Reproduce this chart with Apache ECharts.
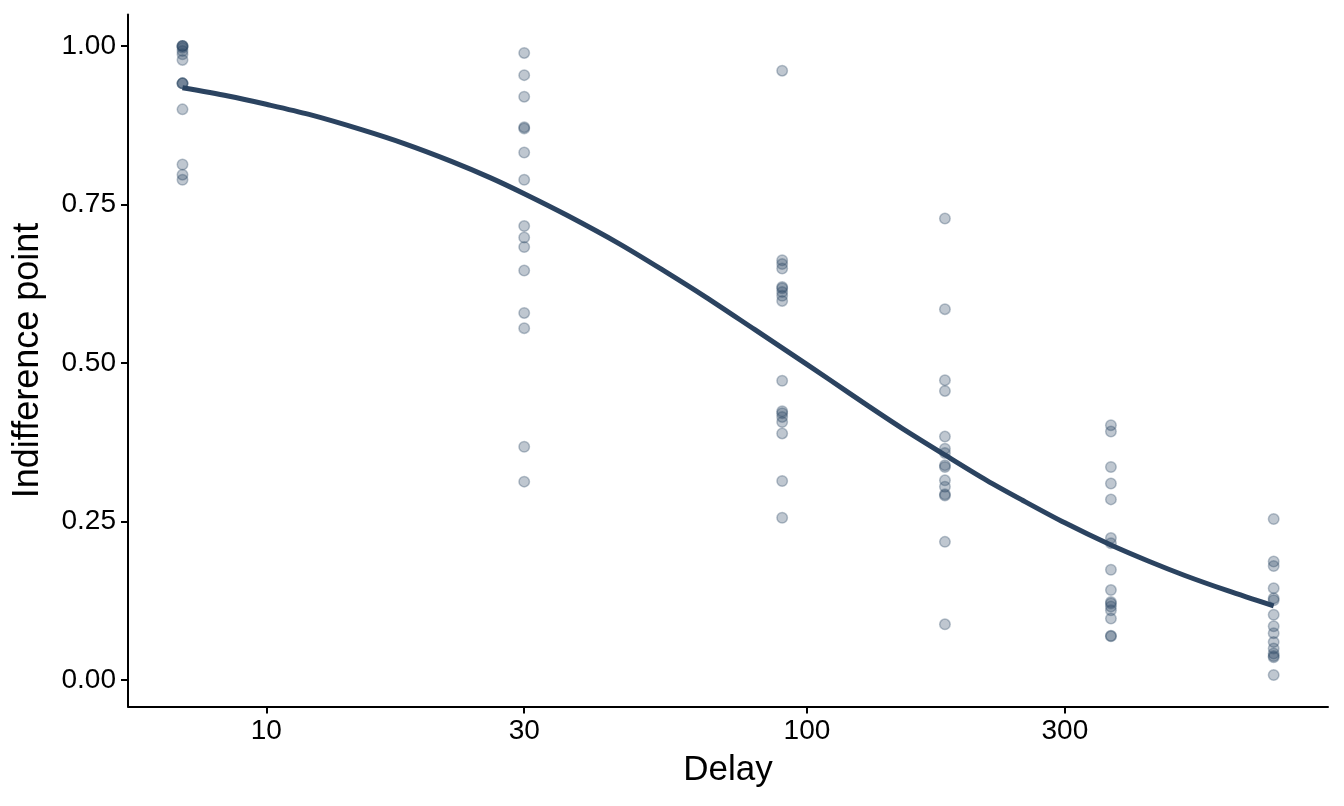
<!DOCTYPE html>
<html>
<head>
<meta charset="utf-8">
<script src="https://cdn.jsdelivr.net/npm/echarts@6/dist/echarts.min.js"></script>
<style>
html,body{margin:0;padding:0;background:#fff;}
#chart{width:1344px;height:806px;}
</style>
</head>
<body>
<div id="chart"></div>
<script>
// Delays (x, log scale)
const delays = [7, 30, 90, 180, 365, 730];
// Indifference points per delay
const points7   = [1.000, 1.000, 1.000, 0.997, 0.992, 0.987, 0.978, 0.941, 0.941, 0.941, 0.900, 0.813, 0.797, 0.789];
const points30  = [0.989, 0.954, 0.920, 0.872, 0.870, 0.832, 0.789, 0.716, 0.698, 0.683, 0.646, 0.579, 0.555, 0.368, 0.313];
const points90  = [0.961, 0.662, 0.656, 0.649, 0.620, 0.618, 0.612, 0.606, 0.598, 0.472, 0.424, 0.421, 0.415, 0.407, 0.389, 0.314, 0.256];
const points180 = [0.728, 0.585, 0.473, 0.456, 0.384, 0.365, 0.358, 0.339, 0.336, 0.315, 0.305, 0.293, 0.291, 0.218, 0.088];
const points365 = [0.402, 0.392, 0.336, 0.310, 0.285, 0.224, 0.216, 0.174, 0.142, 0.123, 0.121, 0.116, 0.110, 0.097, 0.070, 0.069];
const points730 = [0.254, 0.187, 0.180, 0.145, 0.129, 0.126, 0.103, 0.085, 0.074, 0.060, 0.050, 0.042, 0.038, 0.036, 0.008];
// Fitted curve
const curveDelays = [7, 8.5, 10, 12, 15, 18, 22, 26, 30, 36, 45, 55, 65, 80, 90, 110, 130, 150, 180, 215, 250, 300, 365, 430, 500, 600, 730];
const curveValues = [0.934, 0.921, 0.908, 0.892, 0.868, 0.846, 0.818, 0.792, 0.767, 0.733, 0.688, 0.643, 0.604, 0.553, 0.524, 0.474, 0.432, 0.397, 0.355, 0.315, 0.284, 0.248, 0.213, 0.187, 0.165, 0.141, 0.117];
// Tick labels
const xTicks = [10, 30, 100, 300];
const yTicks = [0, 0.25, 0.5, 0.75, 1];

const groups = [points7, points30, points90, points180, points365, points730];
const scatterData = [];
groups.forEach((g, i) => g.forEach(v => scatterData.push([delays[i], v])));
const curveData = curveDelays.map((d, i) => [d, curveValues[i]]);

const FONT = '"Liberation Sans", Arial, Helvetica, sans-serif';
const chart = echarts.init(document.getElementById('chart'), null, {renderer: 'canvas'});
chart.setOption({
  animation: false,
  backgroundColor: '#ffffff',
  grid: {left: 128, right: 16, top: 14.5, bottom: 99.5, containLabel: false},
  xAxis: {
    type: 'log', logBase: 10, min: 5.55, max: 920,
    name: 'Delay', nameLocation: 'middle', nameGap: 46,
    nameTextStyle: {fontFamily: FONT, fontSize: 35, color: '#000'},
    axisLine: {onZero: false, lineStyle: {color: '#000', width: 2}},
    axisTick: {show: true, length: 7, lineStyle: {color: '#000', width: 2}, customValues: xTicks},
    axisLabel: {fontFamily: FONT, fontSize: 28, color: '#000', margin: 11, customValues: xTicks,
      formatter: v => String(Math.round(v))},
    splitLine: {show: false}, minorTick: {show: false}, minorSplitLine: {show: false}
  },
  yAxis: {
    type: 'value', min: -0.0416, max: 1.0496,
    name: 'Indifference point', nameLocation: 'middle', nameGap: 82,
    nameTextStyle: {fontFamily: FONT, fontSize: 36, color: '#000'},
    axisLine: {show: true, onZero: false, lineStyle: {color: '#000', width: 2}},
    axisTick: {show: true, length: 7, lineStyle: {color: '#000', width: 2}, customValues: yTicks},
    axisLabel: {fontFamily: FONT, fontSize: 28, color: '#000', margin: 12, customValues: yTicks,
      formatter: v => Number(v).toFixed(2)},
    splitLine: {show: false}
  },
  series: [
    {
      type: 'line', data: curveData, smooth: 0.3, showSymbol: false, symbol: 'none',
      lineStyle: {color: '#2b4360', width: 5, cap: 'butt'}, z: 2
    },
    {
      type: 'scatter', data: scatterData, symbol: 'circle', symbolSize: 10.5,
      itemStyle: {color: 'rgba(44,70,100,0.3)', borderColor: 'rgba(44,70,100,0.32)', borderWidth: 1.5, opacity: 1},
      z: 3
    }
  ]
});
</script>
</body>
</html>
